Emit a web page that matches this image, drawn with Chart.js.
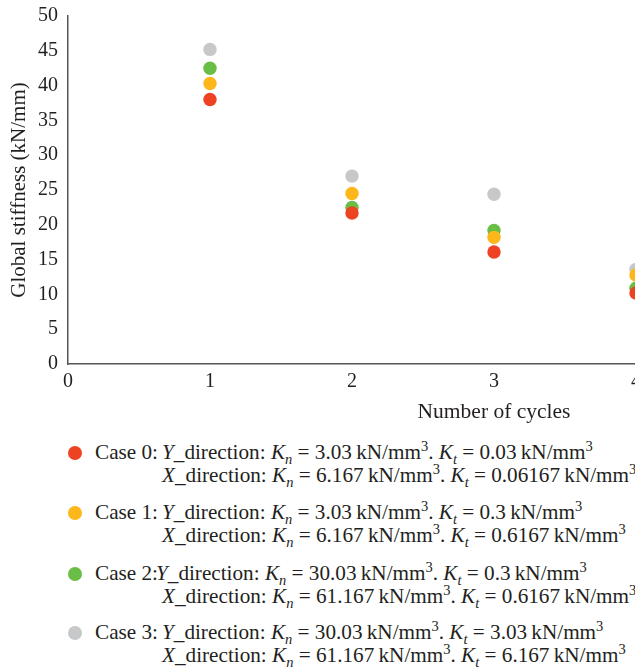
<!DOCTYPE html>
<html>
<head>
<meta charset="utf-8">
<script src="https://cdn.jsdelivr.net/npm/chart.js@4.4.0/dist/chart.umd.min.js"></script>
<style>
  html, body { margin: 0; padding: 0; overflow: hidden; background: #fff; width: 635px; height: 671px; }
  #wrap { position: relative; width: 635px; height: 671px; overflow: hidden; }
  canvas { position: absolute; left: 0; top: 0; }
  #legend { position: absolute; left: 0; top: 0; width: 1000px; font-family: "Liberation Serif", "DejaVu Serif", serif; font-size: 21.2px; color: #231f20; }
  .dot { position: absolute; width: 14px; height: 14px; border-radius: 50%; }
  .ln { position: absolute; line-height: 23px; white-space: nowrap; }
  sub, sup { font-size: 14.5px; line-height: 0; }
  sub { vertical-align: -5px; }
  sup { vertical-align: 8px; }
</style>
</head>
<body>
<div id="wrap">
  <canvas id="myChart" width="940" height="425"></canvas>
  <div id="legend"></div>
</div>
<script>
// 데이터
var cycles = [1, 2, 3, 4];
var caseNames = ['Case 0:', 'Case 1:', 'Case 2:', 'Case 3:'];
var case0 = [38.0, 21.7, 16.1, 10.2];
var case1 = [40.3, 24.5, 18.2, 12.8];
var case2 = [42.5, 22.5, 19.2, 10.9];
var case3 = [45.2, 27.0, 24.4, 13.6];
var colors = ['#ee4323', '#fdb71a', '#6abd45', '#c7c8ca'];
var yTicks = [0, 5, 10, 15, 20, 25, 30, 35, 40, 45, 50];
var xTicks = [0, 1, 2, 3, 4, 5, 6];
// 범례 값
var yKn = ['3.03', '3.03', '30.03', '30.03'];
var yKt = ['0.03', '0.3', '0.3', '3.03'];
var xKn = ['6.167', '6.167', '61.167', '61.167'];
var xKt = ['0.06167', '0.6167', '0.6167', '6.167'];

var series = [case0, case1, case2, case3];
var serif = '"Liberation Serif", "DejaVu Serif", serif';

var ctx = document.getElementById('myChart');
var myChart = new Chart(ctx, {
    type: 'scatter',
    data: {
        datasets: series.map(function (vals, i) {
            return {
                label: caseNames[i],
                data: vals.map(function (v, j) { return { x: cycles[j], y: v }; }),
                backgroundColor: colors[i],
                borderColor: colors[i],
                pointRadius: 6.7,
                pointBorderWidth: 0
            };
        })
    },
    options: {
        responsive: false,
        animation: false,
        layout: { padding: { left: 0, top: 16, right: 20, bottom: 0 } },
        plugins: { legend: { display: false }, tooltip: { enabled: false } },
        scales: {
            x: {
                type: 'linear',
                min: 0, max: 6,
                afterBuildTicks: function (s) { s.ticks = xTicks.map(function (v) { return { value: v }; }); },
                afterFit: function (s) { s.height = 425 - 364; s.paddingLeft = 0; s.paddingRight = 0; },
                grid: { display: false, drawTicks: false },
                border: { color: '#555555', width: 1.5 },
                ticks: { color: '#231f20', font: { family: serif, size: 20 }, padding: 6 },
                title: { display: true, text: 'Number of cycles', color: '#231f20', font: { family: serif, size: 21.5 }, padding: { top: 0, bottom: 0 } }
            },
            y: {
                min: 0, max: 50,
                afterBuildTicks: function (s) { s.ticks = yTicks.map(function (v) { return { value: v }; }); },
                afterFit: function (s) { s.width = 68; s.paddingTop = 0; s.paddingBottom = 0; },
                grid: { display: false, drawTicks: false },
                border: { color: '#555555', width: 1.5 },
                ticks: { color: '#231f20', font: { family: serif, size: 20 }, padding: 10 },
                title: { display: true, text: 'Global stiffness (kN/mm)', color: '#231f20', font: { family: serif, size: 21 }, padding: { top: 7, bottom: 0 } }
            }
        }
    }
});

// 범례 (HTML, 아래쪽)
function K(sub) { return '<i>K</i><sub><i>' + sub + '</i></sub>'; }
var unit = '\u2009kN/mm<sup>3</sup>';
var legend = document.getElementById('legend');
var mids = [453, 513, 574, 633];
var html = '';
for (var i = 0; i < 4; i++) {
    var t = mids[i] - 12;
    html += '<div class="dot" style="left:68px;top:' + (mids[i] - 7) + 'px;background:' + colors[i] + '"></div>';
    html += '<div class="ln" style="left:95px;top:' + t + 'px">' + caseNames[i] + '</div>';
    var lx = (i === 2) ? 156 : 162;
    html += '<div class="ln" style="left:' + lx + 'px;top:' + t + 'px"><i>Y</i>_direction: ' + K('n') + ' = ' + yKn[i] + unit + '. ' + K('t') + ' = ' + yKt[i] + unit + '</div>';
    html += '<div class="ln" style="left:162px;top:' + (t + 23) + 'px"><i>X</i>_direction: ' + K('n') + ' = ' + xKn[i] + unit + '. ' + K('t') + ' = ' + xKt[i] + unit + '</div>';
}
legend.innerHTML = html;
</script>
</body>
</html>
